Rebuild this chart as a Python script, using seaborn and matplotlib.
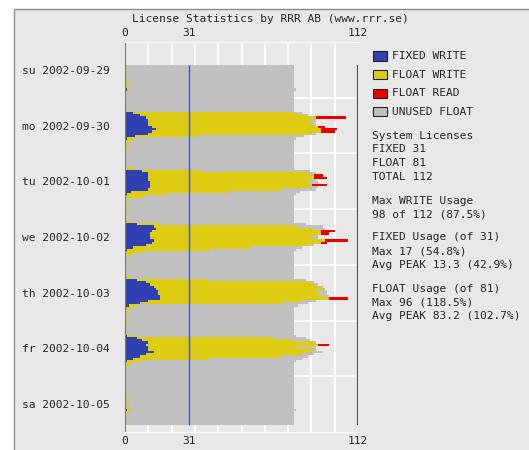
import numpy as np
import pandas as pd
import seaborn as sns
import matplotlib.pyplot as plt
from matplotlib.patches import Rectangle

nan = np.nan

# license pool
fixed_licenses = 31
float_licenses = 81
total_licenses = 112

day_labels = ["su 2002-09-29", "mo 2002-09-30", "tu 2002-10-01", "we 2002-10-02",
              "th 2002-10-03", "fr 2002-10-04", "sa 2002-10-05"]

# hourly averages, one list of 24 per day (nan = no data)
fixed_write = [
    [nan] * 10 + [0, 0, 0, 0, 0, 0, 0, 0, 0, 0, 1, 0, 0, 0],
    [0, 0, 0, 0, 0, 0, 4, 7, 10, 11, 11, 11, 13, 15, 13, 11, 5, 1, 0, 0, 0, 0, 0, 0],
    [0, 0, 0, 0, 0, 0, 0, 8, 11, 11, 11, 11, 12, 12, 12, 11, 3, 1, 0, 0, 0, 0, 0, 0],
    [0, 0, 0, 0, 0, 0, 6, 14, 15, 13, 12, 12, 12, 14, 13, 10, 4, 1, 0, 0, 0, 0, 0, 0],
    [0, 0, 0, 0, 0, 0, 6, 10, 12, 14, 15, 16, 16, 17, 17, 11, 7, 2, 0, 0, 0, 0, 0, 0],
    [0, 0, 0, 0, 0, 0, 1, 6, 8, 11, 10, 11, 11, 14, 10, 7, 4, 1, 0, 0, 0, 0, 0, 0],
    [0, 0, 0, 0, 0, 0, 0, 0, 0, 0, 0, 0, 0, 0, 1, 0, 0, 0, 0, 0, 0] + [nan] * 3,
]
float_write = [
    [nan] * 10 + [1, 1, 0, 1, 0, 0, 1, 2, 1, 0, 1, 1, 0, 0],
    [0, 0, 0, 0, 0, 1, 77, 79, 82, 78, 78, 79, 80, 79, 81, 78, 29, 4, 2, 2, 2, 1, 0, 0],
    [0, 0, 0, 0, 0, 0, 5, 28, 77, 80, 80, 77, 77, 78, 76, 64, 47, 19, 9, 2, 1, 1, 1, 1],
    [1, 1, 0, 0, 0, 4, 11, 68, 75, 81, 82, 79, 77, 82, 81, 78, 56, 40, 8, 3, 1, 0, 0, 0],
    [0, 0, 0, 1, 0, 3, 34, 78, 79, 80, 81, 76, 77, 78, 81, 74, 68, 4, 3, 2, 1, 1, 1, 1],
    [1, 1, 0, 0, 0, 0, 4, 65, 72, 80, 83, 71, 80, 75, 75, 68, 36, 7, 3, 1, 0, 0, 0, 0],
    [0, 0, 0, 0, 0, 0, 0, 0, 0, 1, 2, 1, 1, 2, 2, 1, 1, 1, 0, 0, 0] + [nan] * 3,
]
float_read = [
    [nan] * 10 + [0] * 14,
    [0, 0, 0, 0, 0, 0, 0, 0, 14, 0, 0, 0, 3, 8, 7, 0, 0, 0, 0, 0, 0, 0, 0, 0],
    [0, 0, 0, 0, 0, 0, 0, 0, 0, 4, 6, 0, 0, 7, 0, 0, 0, 0, 0, 0, 0, 0, 0, 0],
    [0, 0, 0, 0, 0, 0, 0, 0, 0, 7, 4, 0, 0, 11, 3, 0, 0, 0, 0, 0, 0, 0, 0, 0],
    [0, 0, 0, 0, 0, 0, 0, 0, 0, 0, 0, 0, 0, 0, 9, 0, 0, 0, 0, 0, 0, 0, 0, 0],
    [0, 0, 0, 0, 0, 0, 0, 0, 0, 0, 5, 0, 0, 0, 0, 0, 0, 0, 0, 0, 0, 0, 0, 0],
    [0] * 21 + [nan] * 3,
]

legend_items = [("FIXED WRITE", "#3040b0"), ("FLOAT WRITE", "#ddcc11"),
                ("FLOAT READ", "#ee0000"), ("UNUSED FLOAT", "#c0c0c0")]
stats_blocks = [
    ["System Licenses", "FIXED 31", "FLOAT 81", "TOTAL 112"],
    ["Max WRITE Usage", "98 of 112 (87.5%)"],
    ["FIXED Usage (of 31)", "Max 17 (54.8%)", "Avg PEAK 13.3 (42.9%)"],
    ["FLOAT Usage (of 81)", "Max 96 (118.5%)", "Avg PEAK 83.2 (102.7%)"],
]

# build one row per hour slot
df = pd.DataFrame({
    "fixed": np.concatenate(fixed_write),
    "write": np.concatenate(float_write),
    "read": np.concatenate(float_read),
})
df["slot"] = np.arange(len(df))
valid = df["fixed"].notna()
d = df.fillna(0)
df["blue"] = d["fixed"]
df["yellow"] = d["fixed"] + d["write"]
df["red"] = d["fixed"] + d["write"] + d["read"]
df["grey"] = np.where(valid, d["fixed"] + np.maximum(float_licenses, d["write"] + d["read"]), 0)

sns.set_style("white")
plt.rcParams["font.family"] = ["DejaVu Sans Mono"]
bg = "#e8e8e8"
fs = 8.1

W, H = 529, 450
fig = plt.figure(figsize=(W / 100, H / 100), dpi=100)
fig.patch.set_facecolor("white")
fig.patches.append(Rectangle((14 / W, -0.01), 1.0, 1 - 9 / H + 0.01, transform=fig.transFigure,
                             facecolor=bg, edgecolor="#8c8c8c", lw=1, zorder=-1))

ax = fig.add_axes([125 / W, 1 - 432 / H, 233 / W, 390 / H])
ax.set_facecolor(bg)

n = len(df)
order = list(range(n))
for col, colour in [("grey", "#c0c0c0"), ("red", "#ee0000"), ("yellow", "#ddcc11"), ("blue", "#3040b0")]:
    sns.barplot(data=df, x=col, y="slot", orient="h", order=order, color=colour,
                width=1, linewidth=0, saturation=1, errorbar=None, ax=ax)

first = df.index[valid].min()
last = df.index[valid].max()
ax.vlines(fixed_licenses, first - 0.5, last + 0.5, color="#4455cc", lw=1, zorder=5)
ax.vlines(total_licenses, first - 0.5, last + 0.5, color="#555555", lw=1.6, zorder=5)

ax.set_xlim(0, total_licenses)
ax.set_ylim(n - 0.5, -0.5)
ax.set_xticks([0, fixed_licenses, total_licenses])
ax.set_xticks(np.arange(0, total_licenses + 0.1, total_licenses / 10), minor=True)
ax.set_yticks([24 * i + 11.5 for i in range(7)])
ax.set_yticklabels(day_labels)
ax.set_yticks([24 * i - 0.5 for i in range(1, 7)], minor=True)
ax.set_xlabel("")
ax.set_ylabel("")
ax.xaxis.grid(False, which="major")
ax.yaxis.grid(False, which="major")
ax.xaxis.grid(True, which="minor", color="white", lw=1.2)
ax.yaxis.grid(True, which="minor", color="white", lw=1.2)
ax.set_axisbelow(True)
ax.tick_params(axis="x", which="both", length=0, labeltop=True, labelbottom=True, pad=3, labelsize=fs)
ax.tick_params(axis="y", which="both", length=0, pad=11, labelsize=fs)
for side in ["top", "bottom"]:
    ax.spines[side].set_color("white")
ax.spines["right"].set_visible(False)
ax.spines["left"].set_color("#7a7a7a")

fig.text(270 / W, 1 - 19 / H, "License Statistics by RRR AB (www.rrr.se)",
         ha="center", va="center", fontsize=fs)

# legend
for i, (label, colour) in enumerate(legend_items):
    yc = 56 + i * 18.6
    fig.patches.append(Rectangle((373 / W, 1 - (yc + 4.5) / H), 14 / W, 9 / H, transform=fig.transFigure,
                                 facecolor=colour, edgecolor="#222222", lw=0.8))
    fig.text(392.5 / W, 1 - yc / H, label, ha="left", va="center", fontsize=fs)

# statistics text
block_tops = [135.7, 200.7, 237.5, 288.5]
for top, lines in zip(block_tops, stats_blocks):
    for j, line in enumerate(lines):
        fig.text(371.5 / W, 1 - (top + j * 13.7) / H, line, ha="left", va="center", fontsize=fs)

fig.savefig("out.png", dpi=100, facecolor=fig.get_facecolor())
